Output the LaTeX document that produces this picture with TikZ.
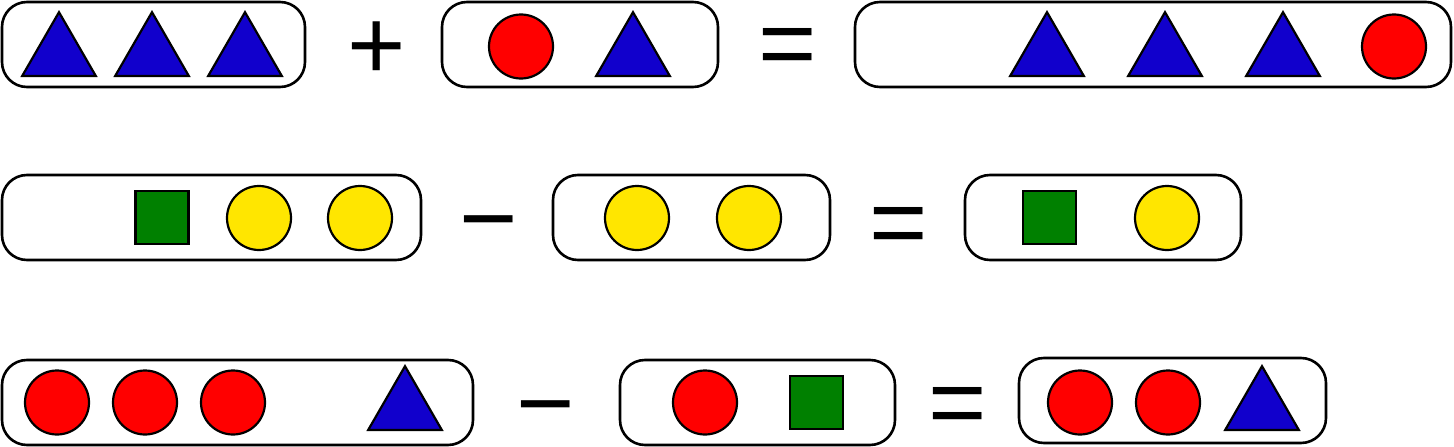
\documentclass[tikz,border=0pt]{standalone}
\usepackage{fontspec}
\setmainfont{Liberation Sans}
\usetikzlibrary{shapes.geometric}
\definecolor{triblue}{RGB}{17,0,204}
\definecolor{dotred}{RGB}{255,0,0}
\definecolor{dotyellow}{RGB}{255,230,0}
\definecolor{sqgreen}{RGB}{0,128,0}
\begin{document}
\begin{tikzpicture}[x=1pt,y=-1pt,
    grp/.style={draw, line width=2.6pt, rounded corners=25pt, inner sep=0pt, minimum height=85pt},
    tri/.style={regular polygon, regular polygon sides=3, minimum size=85pt, inner sep=0pt,
      draw, line width=2.2pt, fill=triblue},
    dot/.style={circle, minimum size=64pt, inner sep=0pt, draw, line width=2.2pt},
    sq/.style={rectangle, minimum size=53pt, inner sep=0pt, draw, line width=2.2pt, fill=sqgreen},
    op/.style={inner sep=0pt, anchor=base, font=\fontsize{100}{100}\selectfont}]
    \useasboundingbox (0,0) rectangle (1454,447);
    % groups
    \node[grp, minimum width=303pt] (g1) at (153.5,44.5) {};
    \node[grp, minimum width=276pt] (g2) at (580,44.5) {};
    \node[grp, minimum width=596pt] (g3) at (1153,44.5) {};
    \node[grp, minimum width=419pt] (g4) at (211.5,217.5) {};
    \node[grp, minimum width=277pt] (g5) at (691.5,217.5) {};
    \node[grp, minimum width=276pt] (g6) at (1103,217.5) {};
    \node[grp, minimum width=471pt] (g7) at (237.5,402.5) {};
    \node[grp, minimum width=275pt] (g8) at (757.5,402.5) {};
    \node[grp, minimum width=307pt] (g9) at (1172.5,400.5) {};
    % operators (placed by baseline)
    \node[op] (op1) at (377,79) {+};
    \node[op] (op2) at (788,77.1) {=};
    \node[op] (op3) at (488.5,252.9) {−};
    \node[op] (op4) at (899,256.1) {=};
    \node[op] (op5) at (546,437.4) {−};
    \node[op] (op6) at (958,436.1) {=};
    % first row
    \foreach \x [count=\i] in {59,152,245,633,1047,1165,1283}
      \node[tri] (ta\i) at (\x,54.7) {};
    \foreach \x [count=\i] in {521,1394}
      \node[dot, fill=dotred] (da\i) at (\x,46.5) {};
    % second row
    \foreach \x [count=\i] in {162,1049.5}
      \node[sq] (sb\i) at (\x,217.5) {};
    \foreach \x [count=\i] in {259,360,637,749,1167}
      \node[dot, fill=dotyellow] (db\i) at (\x,218) {};
    % third row
    \foreach \x [count=\i] in {57,145,233,705,1080,1168}
      \node[dot, fill=dotred] (dc\i) at (\x,402.5) {};
    \foreach \x [count=\i] in {405,1262}
      \node[tri] (tc\i) at (\x,408.7) {};
    \node[sq] (sc1) at (816.5,402.5) {};
\end{tikzpicture}
\end{document}
